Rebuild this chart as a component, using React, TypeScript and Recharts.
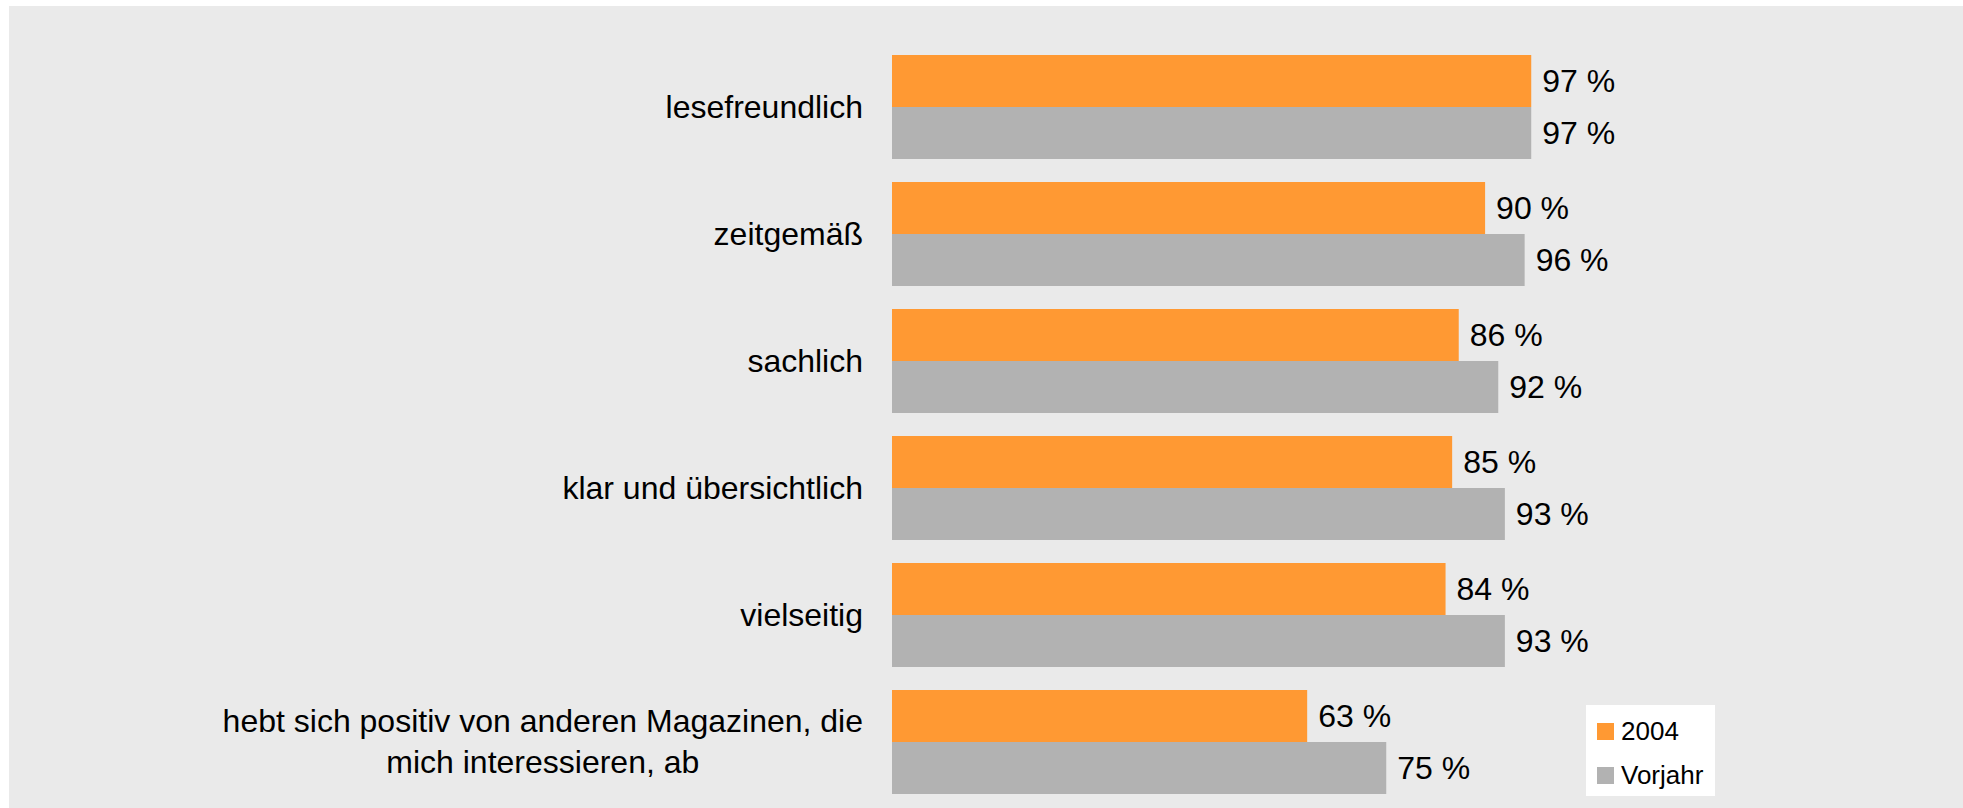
import React from 'react';
import { BarChart, Bar, XAxis, YAxis, LabelList } from 'recharts';

const categories = [
  'lesefreundlich',
  'zeitgemäß',
  'sachlich',
  'klar und übersichtlich',
  'vielseitig',
  'hebt sich positiv von anderen Magazinen, die\nmich interessieren, ab',
];
const values2004 = [97, 90, 86, 85, 84, 63];
const valuesVorjahr = [97, 96, 92, 93, 93, 75];
const seriesNames = ['2004', 'Vorjahr'];
const xDomain = [0, 100];

const data = categories.map((name, i) => ({
  name,
  y2004: values2004[i],
  vorjahr: valuesVorjahr[i],
}));

const FONT = "'Liberation Sans', Arial, sans-serif";
const ORANGE = '#FF9933';
const GRAY = '#B2B2B2';
const seriesColors = [ORANGE, GRAY];

let ctx: CanvasRenderingContext2D | null = null;
function measure(text: string, size: number): number {
  if (!ctx) {
    const c = document.createElement('canvas');
    ctx = c.getContext('2d');
  }
  if (!ctx) return text.length * size * 0.5;
  ctx.font = `${size}px ${FONT}`;
  return ctx.measureText(text).width;
}

const CategoryTick = (props: any) => {
  const { x, y, payload } = props;
  const lines: string[] = String(payload.value).split('\n');
  const maxW = Math.max(...lines.map((l) => measure(l, 32)));
  const right = x - 29;
  const cx = right - maxW / 2;
  const lh = 41;
  return (
    <g>
      {lines.map((l, i) => (
        <text
          key={i}
          x={cx}
          y={y + (i - (lines.length - 1) / 2) * lh}
          textAnchor="middle"
          dominantBaseline="central"
          fontSize={32}
          fontFamily={FONT}
          fill="#000"
        >
          {l}
        </text>
      ))}
    </g>
  );
};

const LegendBox = () => (
  <div
    style={{
      position: 'absolute',
      left: 1577,
      top: 699,
      background: '#fff',
      width: 129,
      height: 91,
      fontFamily: FONT,
    }}
  >
    {seriesNames.map((n, i) => (
      <div
        key={n}
        style={{
          position: 'absolute',
          left: 11,
          top: 17 + i * 44 - 8,
          height: 34,
          display: 'flex',
          alignItems: 'center',
        }}
      >
        <div style={{ width: 17, height: 17, background: seriesColors[i] }} />
        <span style={{ marginLeft: 7, fontSize: 26, color: '#000', lineHeight: '34px' }}>{n}</span>
      </div>
    ))}
  </div>
);

export default function App() {
  return (
    <div
      style={{
        position: 'absolute',
        left: 9,
        top: 6,
        width: 1954,
        height: 802,
        background: '#EAEAEA',
      }}
    >
      <BarChart
        width={1954}
        height={802}
        data={data}
        layout="vertical"
        margin={{ top: 37, right: 412, bottom: 3, left: 0 }}
        barCategoryGap={12}
        barGap={0}
      >
        <XAxis type="number" domain={xDomain} hide />
        <YAxis
          type="category"
          dataKey="name"
          width={883}
          axisLine={false}
          tickLine={false}
          tickSize={0}
          tickMargin={0}
          interval={0}
          tick={<CategoryTick />}
        />
        <Bar dataKey="y2004" name={seriesNames[0]} fill={ORANGE} isAnimationActive={false}>
          <LabelList
            dataKey="y2004"
            position="right"
            offset={11}
            fontSize={32}
            fontFamily={FONT}
            fill="#000"
            formatter={(v: any) => `${v} %`}
          />
        </Bar>
        <Bar dataKey="vorjahr" name={seriesNames[1]} fill={GRAY} isAnimationActive={false}>
          <LabelList
            dataKey="vorjahr"
            position="right"
            offset={11}
            fontSize={32}
            fontFamily={FONT}
            fill="#000"
            formatter={(v: any) => `${v} %`}
          />
        </Bar>
      </BarChart>
      <LegendBox />
    </div>
  );
}
